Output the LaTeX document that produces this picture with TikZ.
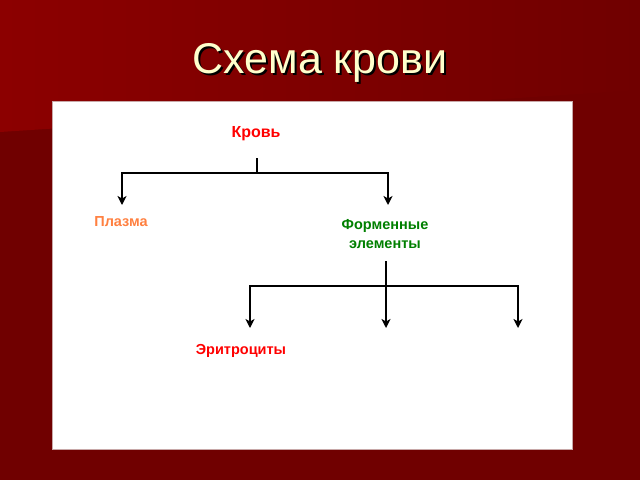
\documentclass[tikz,border=0pt]{standalone}
\usepackage{fontspec}
\setmainfont{Liberation Sans}
\usetikzlibrary{arrows.meta}
\definecolor{bgdark}{HTML}{700000}
\definecolor{bglight}{HTML}{8C0000}
\definecolor{titlecol}{HTML}{FFFFCC}
\definecolor{plasmacol}{HTML}{FF8040}
\definecolor{formcol}{HTML}{008000}
\definecolor{redcol}{HTML}{FF0000}
\definecolor{framecol}{HTML}{C8A8A8}
\tikzset{
  lbl/.style={inner sep=0pt, font=\fontsize{14.5}{17}\selectfont\bfseries, align=center},
  conn/.style={line width=1.8pt, line cap=rect},
  arr/.style={conn, -{Stealth[length=9pt,width=9pt,inset=2.5pt]}}
}
\newcommand{\shadowtext}[1]{\makebox[0pt][l]{\kern2pt\raisebox{-2pt}{\textcolor{black}{#1}}}\textcolor{titlecol}{#1}}
\begin{document}
\begin{tikzpicture}[x=1pt,y=-1pt]
\useasboundingbox (0,0) rectangle (640,480);
% background
\fill[bgdark] (0,0) rectangle (640,480);
\shade[left color=bglight, right color=bgdark] (0,0) -- (640,0) -- (640,90) -- (0,132) -- cycle;
% title
\node[font=\fontsize{43}{50}\selectfont, inner sep=0pt] (title) at (320,64) {\shadowtext{Схема крови}};
% white panel
\fill[white, draw=framecol, line width=0.6pt] (52,101) rectangle (572,449);
% nodes
\node[lbl, text=redcol, font=\fontsize{16}{19}\selectfont\bfseries] (blood) at (256,134) {Кровь};
\node[lbl, text=plasmacol] (plasma) at (121,222) {Плазма};
\node[lbl, text=formcol] (formed) at (385,234) {Форменные\\[2pt]элементы};
\node[lbl, text=redcol] (eryth) at (241,351) {Эритроциты};
% coordinates
\coordinate (b1) at (257,159);
\coordinate (bj) at (257,173);
\coordinate (pl) at (122,205);
\coordinate (fm) at (388,205);
\coordinate (f1) at (386,262);
\coordinate (fj) at (386,286);
\coordinate (e1) at (250,328);
\coordinate (m1) at (386,328);
\coordinate (r1) at (518,328);
% connectors
\draw[conn] (b1) -- (bj);
\draw[arr] (bj) -| (pl);
\draw[arr] (bj) -| (fm);
\draw[arr] (f1) -- (m1);
\draw[arr] (fj) -| (e1);
\draw[arr] (fj) -| (r1);
\end{tikzpicture}
\end{document}
